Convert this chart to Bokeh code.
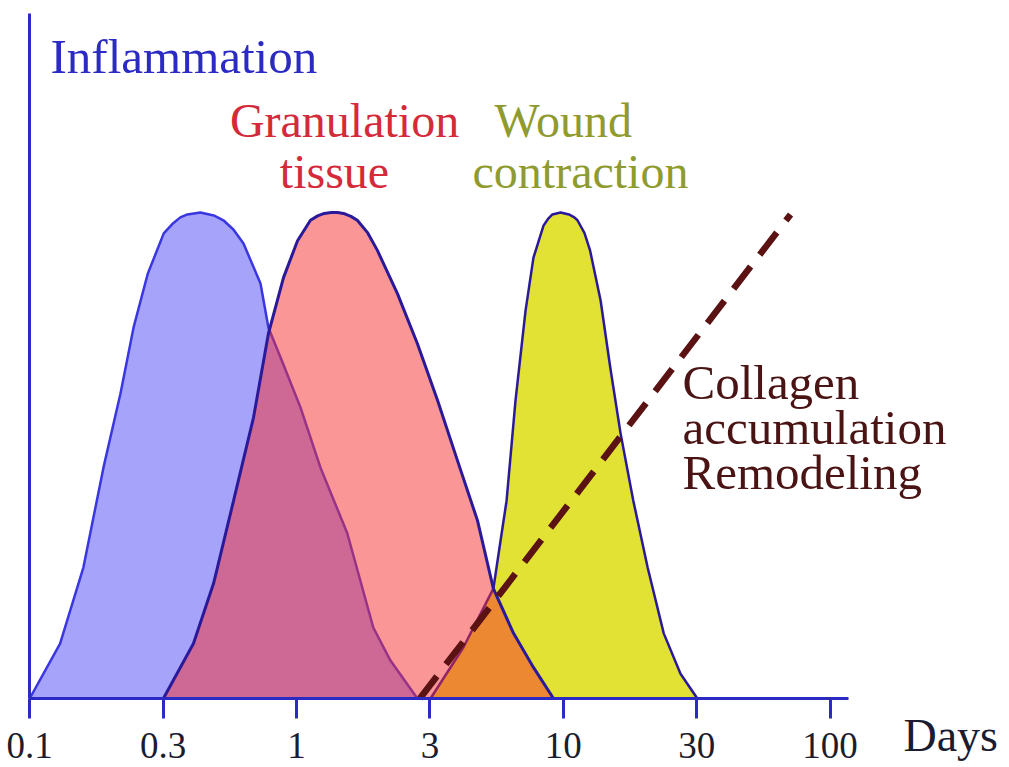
from bokeh.plotting import figure
from bokeh.models import Range1d, FixedTicker, Label
from bokeh.embed import file_html
from bokeh.resources import INLINE

# ---- data (days on a log scale, relative level 0..1) ----
inflam_days = [0.1, 0.13, 0.159, 0.189, 0.219, 0.245, 0.277, 0.318, 0.345, 0.367, 0.39, 0.436,
               0.49, 0.532, 0.58, 0.633, 0.733, 0.785, 0.871, 1.035, 1.23, 1.55, 1.94, 2.25, 2.84]
inflam_level = [0, 0.113, 0.27, 0.475, 0.628, 0.763, 0.874, 0.957, 0.978, 0.99, 0.996, 1.0,
                0.994, 0.984, 0.965, 0.936, 0.854, 0.763, 0.702, 0.599, 0.475, 0.34, 0.146, 0.078, 0]

gran_days = [0.317, 0.411, 0.489, 0.581, 0.69, 0.785, 0.894, 1.009, 1.128, 1.2, 1.27, 1.35, 1.425,
             1.5, 1.6, 1.69, 1.85, 2.01, 2.39, 2.84, 3.38, 4.01, 4.77, 5.47, 6.51, 7.73, 9.19]
gran_level = [0, 0.113, 0.237, 0.407, 0.578, 0.751, 0.866, 0.942, 0.984, 0.993, 0.998, 1.0, 1.0,
              0.998, 0.992, 0.984, 0.958, 0.922, 0.833, 0.73, 0.613, 0.49, 0.366, 0.226, 0.134, 0.064, 0]

wound_days = [3.18, 4.22, 5.47, 5.82, 6.13, 6.62, 7.22, 7.73, 8.43, 8.8, 9.1, 9.77, 10.5,
              11.0, 11.3, 12.0, 12.6, 13.8, 15.0, 16.4, 18.3, 20.7, 23.8, 27.5, 31.8]
wound_level = [0, 0.105, 0.226, 0.325, 0.407, 0.613, 0.798, 0.907, 0.973, 0.988, 0.996, 1.0, 0.996,
               0.99, 0.984, 0.958, 0.922, 0.819, 0.681, 0.545, 0.407, 0.27, 0.134, 0.051, 0]

collagen_days = [2.9, 71.1]
collagen_level = [0.0, 0.996]

tick_days = [0.1, 0.3162, 1, 3.162, 10, 31.62, 100]
tick_labels = ["0.1", "0.3", "1", "3", "10", "30", "100"]
axis_days = (0.1, 117.3)      # extent of the time axis
axis_levels = (0.0, 1.409)    # extent of the vertical axis

SERIF = "Liberation Serif"
AXIS_COLOR = "#2b2bc4"

p = figure(width=1009, height=767, x_axis_type="log",
           x_range=Range1d(0.07773, 470.4), y_range=Range1d(-0.142, 1.4362),
           output_backend="svg", toolbar_location=None,
           min_border_left=0, min_border_right=0, min_border_top=0, min_border_bottom=0)
p.grid.visible = False
p.outline_line_color = None
p.background_fill_color = "white"
p.border_fill_color = "white"

# x axis (drawn at level 0, limited to its extent)
xa = p.xaxis[0]
xa.fixed_location = 0
xa.bounds = axis_days
xa.ticker = FixedTicker(ticks=tick_days, minor_ticks=[])
xa.major_label_overrides = dict(zip(tick_days, tick_labels))
xa.axis_line_color = AXIS_COLOR
xa.axis_line_width = 3
xa.major_tick_line_color = AXIS_COLOR
xa.major_tick_line_width = 3
xa.major_tick_in = 0
xa.major_tick_out = 20
xa.minor_tick_line_color = None
xa.major_label_standoff = 15
xa.major_label_text_font = SERIF
xa.major_label_text_font_size = "37px"
xa.major_label_text_color = "#1c1c30"

# y axis (drawn at day 0.1)
ya = p.yaxis[0]
ya.fixed_location = 0.1
ya.bounds = axis_levels
ya.ticker = FixedTicker(ticks=[])
ya.axis_line_color = AXIS_COLOR
ya.axis_line_width = 3
ya.major_tick_line_color = None
ya.minor_tick_line_color = None

# curves: inflammation, wound contraction, then translucent granulation tissue on top
p.patch(inflam_days, inflam_level, fill_color="#a6a3fb", fill_alpha=1.0,
        line_color="#3a36e0", line_width=2.5)
p.patch(wound_days, wound_level, fill_color="#e2e234", fill_alpha=1.0,
        line_color="#2a1a9a", line_width=2.5)
p.patch(gran_days, gran_level, fill_color="#f52d2d", fill_alpha=0.5,
        line_color="#2a1a9a", line_width=3)

# collagen accumulation (dashed)
p.line(collagen_days, collagen_level, line_color="#5a1212", line_width=6.5,
       line_dash="28 15", line_cap="butt")

def lab(x, y, text, color, size="48px", align="left", style="normal"):
    p.add_layout(Label(x=x, y=y, text=text, text_color=color, text_font=SERIF,
                       text_font_size=size, text_align=align, text_baseline="alphabetic",
                       text_font_style=style))

lab(0.1197, 1.321, "Inflammation", "#2b2bc4", size="49px")
lab(1.514, 1.189, "Granulation", "#d42a3a", align="center")
lab(1.388, 1.084, "tissue", "#d42a3a", align="center")
lab(10.0, 1.189, "Wound", "#8f9b2e", align="center")
lab(11.6, 1.084, "contraction", "#8f9b2e", align="center")
lab(27.97, 0.650, "Collagen", "#4a1414", size="49px")
lab(27.97, 0.558, "accumulation", "#4a1414", size="49px")
lab(27.97, 0.465, "Remodeling", "#4a1414", size="49px")
lab(188.4, -0.076, "Days", "#1c1c30", size="46px")

open("out.html", "w").write(file_html(p, INLINE))
